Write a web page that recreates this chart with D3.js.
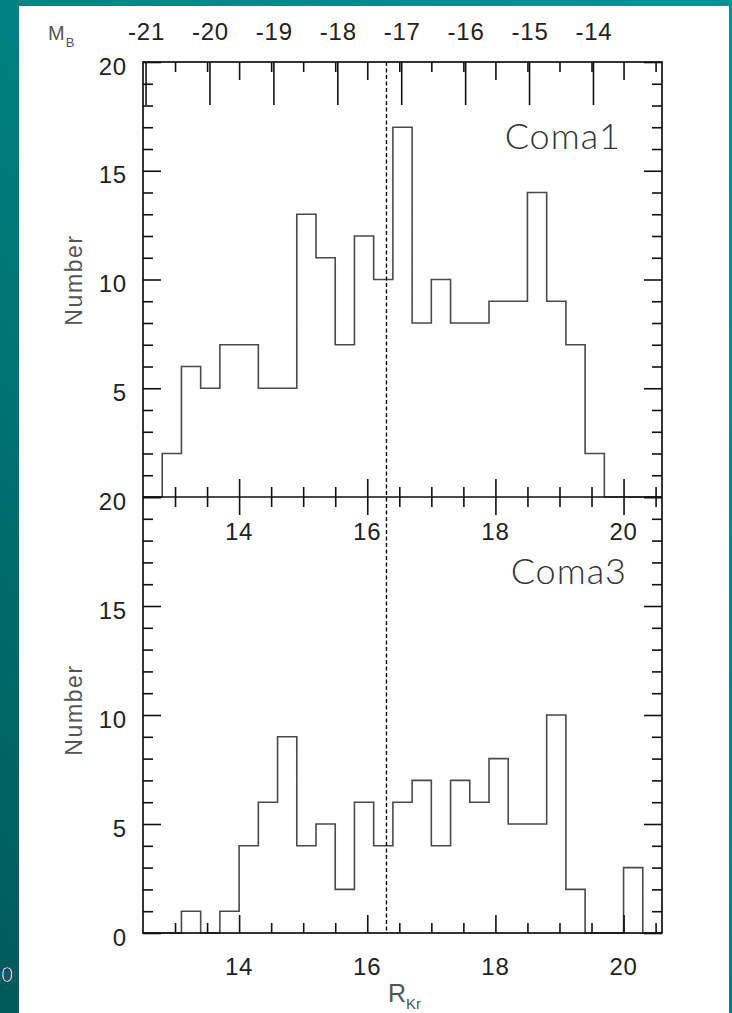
<!DOCTYPE html>
<html>
<head>
<meta charset="utf-8">
<script src="https://cdn.jsdelivr.net/npm/d3@7"></script>
<style>
  html, body { margin: 0; padding: 0; background: #007a7a; }
  svg { display: block; }
</style>
</head>
<body>
<svg id="chart" width="732" height="1013"></svg>
<script>
// Histogram bins: lower edge of each 0.3-mag bin in R_Kr
const binLower = [12.5, 12.8, 13.1, 13.4, 13.7, 14.0, 14.3, 14.6, 14.9, 15.2, 15.5, 15.8, 16.1,
                  16.4, 16.7, 17.0, 17.3, 17.6, 17.9, 18.2, 18.5, 18.8, 19.1, 19.4, 19.7, 20.0, 20.3];
const binWidth = 0.3;

// Galaxy counts per bin
const coma1Counts = [0, 2, 6, 5, 7, 7, 5, 5, 13, 11, 7, 12, 10,
                     17, 8, 10, 8, 8, 9, 9, 14, 9, 7, 2, 0, 0, 0];
const coma3Counts = [0, 0, 1, 0, 1, 4, 6, 9, 4, 5, 2, 6, 4,
                     6, 7, 4, 7, 6, 8, 5, 5, 10, 2, 0, 0, 3, 0];

// Axis ticks and labels
const rDomain = [12.5, 20.6];
const rMajorTicks = [14, 16, 18, 20];
const rMinorTicks = [13, 13.5, 14.5, 15, 15.5, 16.5, 17, 17.5, 18.5, 19, 19.5, 20.5];
const mbDomain = [-21.04, -12.92];
const mbTicks = [-21, -20, -19, -18, -17, -16, -15, -14];
const countDomain = [0, 20];
const countMajorTicks = [0, 5, 10, 15, 20];
const countMinorTicks = [1, 2, 3, 4, 6, 7, 8, 9, 11, 12, 13, 14, 16, 17, 18, 19];
const countLabelsTop = [5, 10, 15, 20];
const countLabelsBottom = [0, 5, 10, 15, 20];
const cutMagnitude = 16.3;
const panelNames = ["Coma1", "Coma3"];

const svg = d3.select("#chart");
const W = 732, H = 1013;

// Slide background
const defs = svg.append("defs");
const grad = defs.append("linearGradient").attr("id", "bg")
  .attr("x1", "1").attr("y1", "0").attr("x2", "0").attr("y2", "1");
grad.append("stop").attr("offset", "0").attr("stop-color", "#009696");
grad.append("stop").attr("offset", "0.45").attr("stop-color", "#008585");
grad.append("stop").attr("offset", "1").attr("stop-color", "#005a5a");
svg.append("rect").attr("width", W).attr("height", H).attr("fill", "url(#bg)");
svg.append("text").attr("x", 1).attr("y", 982)
  .attr("font-family", "Liberation Sans, Arial, sans-serif").attr("font-size", 22)
  .attr("fill", "#fff").attr("stroke", "#023").attr("stroke-width", 0.7).text("0");
svg.append("rect").attr("x", 19).attr("y", 6).attr("width", 710).attr("height", H - 6).attr("fill", "#fff");

// Plot frame geometry
const frameL = 143, frameR = 662, frameT = 62, frameM = 497, frameB = 933;

const x = d3.scaleLinear().domain(rDomain).range([frameL, frameR]);
const mb = d3.scaleLinear().domain(mbDomain).range([frameL, frameR]);
const yTop = d3.scaleLinear().domain(countDomain).range([frameM, frameT]);
const yBot = d3.scaleLinear().domain(countDomain).range([frameB, frameM]);

const ink = "#111";
const tickW = 1.6;

function styleAxis(g) {
  g.select(".domain").remove();
  g.selectAll(".tick line").attr("stroke", ink).attr("stroke-width", tickW);
  g.selectAll(".tick text").remove();
}

function addAxis(axis, tx, ty) {
  svg.append("g").attr("transform", `translate(${tx},${ty})`).call(axis).call(styleAxis);
}

// Histograms as step outlines
function histPoints(counts) {
  const pts = binLower.map((b, i) => [b, counts[i]]);
  pts.push([Math.min(binLower[binLower.length - 1] + binWidth, rDomain[1]), counts[counts.length - 1]]);
  return pts;
}
[[coma1Counts, yTop], [coma3Counts, yBot]].forEach(([counts, y]) => {
  const step = d3.line().x(d => x(d[0])).y(d => y(d[1])).curve(d3.curveStepAfter);
  svg.append("path")
    .attr("d", step(histPoints(counts)))
    .attr("fill", "none").attr("stroke", "#4a4a4a").attr("stroke-width", 1.6);
});

// Frame
svg.append("rect").attr("x", frameL).attr("y", frameT)
  .attr("width", frameR - frameL).attr("height", frameB - frameT)
  .attr("fill", "none").attr("stroke", ink).attr("stroke-width", 1.7);
svg.append("line").attr("x1", frameL).attr("x2", frameR).attr("y1", frameM).attr("y2", frameM)
  .attr("stroke", ink).attr("stroke-width", 1.7);

// R ticks on top edge, middle (both panels) and bottom edge
addAxis(d3.axisBottom(x).tickValues(rMinorTicks).tickSize(10), 0, frameT);
addAxis(d3.axisBottom(x).tickValues(rMajorTicks).tickSize(18), 0, frameT);
addAxis(d3.axisTop(x).tickValues(rMinorTicks).tickSize(10), 0, frameM);
addAxis(d3.axisTop(x).tickValues(rMajorTicks).tickSize(18), 0, frameM);
addAxis(d3.axisBottom(x).tickValues(rMinorTicks).tickSize(10), 0, frameM);
addAxis(d3.axisBottom(x).tickValues(rMajorTicks).tickSize(18), 0, frameM);
addAxis(d3.axisTop(x).tickValues(rMinorTicks).tickSize(10), 0, frameB);
addAxis(d3.axisTop(x).tickValues(rMajorTicks).tickSize(18), 0, frameB);

// Absolute magnitude ticks along the top
addAxis(d3.axisBottom(mb).tickValues(mbTicks).tickSize(43), 0, frameT);

// Count ticks, left and right, both panels
[yTop, yBot].forEach(y => {
  addAxis(d3.axisRight(y).tickValues(countMinorTicks).tickSize(10), frameL, 0);
  addAxis(d3.axisRight(y).tickValues(countMajorTicks).tickSize(18), frameL, 0);
  addAxis(d3.axisLeft(y).tickValues(countMinorTicks).tickSize(10), frameR, 0);
  addAxis(d3.axisLeft(y).tickValues(countMajorTicks).tickSize(18), frameR, 0);
});

// Magnitude limit
svg.append("line").attr("x1", x(cutMagnitude)).attr("x2", x(cutMagnitude))
  .attr("y1", frameT).attr("y2", frameB)
  .attr("stroke", "#000").attr("stroke-width", 1.4).attr("stroke-dasharray", "4,2.5");

// Tick labels
const numFont = "Liberation Sans, Arial, Helvetica, sans-serif";
function labels(values, xf, yf, anchor) {
  svg.append("g").selectAll("text").data(values).join("text")
    .attr("x", xf).attr("y", yf).attr("text-anchor", anchor)
    .attr("font-family", numFont).attr("font-size", 24).attr("letter-spacing", 0.8)
    .attr("fill", "#222").text(d => d);
}
labels(mbTicks, d => mb(d) + 1, 40, "middle");
labels(countLabelsTop, 127, d => yTop(d) + 12.5, "end");
labels(countLabelsBottom, 127, d => yBot(d) + 12.5, "end");
labels(rMajorTicks, d => x(d), 540, "middle");
labels(rMajorTicks, d => x(d), 975, "middle");

// Axis titles
const titleFill = "#555";
function numberTitle(cy) {
  svg.append("text").attr("transform", `translate(82,${cy}) rotate(-90)`)
    .attr("text-anchor", "middle").attr("font-family", numFont)
    .attr("font-size", 23).attr("letter-spacing", 1.6).attr("fill", titleFill).text("Number");
}
numberTitle(280);
numberTitle(710);

const mbLabel = svg.append("text").attr("x", 48).attr("y", 39.5)
  .attr("font-family", numFont).attr("fill", titleFill);
mbLabel.append("tspan").attr("font-size", 20).text("M");
mbLabel.append("tspan").attr("font-size", 13).attr("dy", 7.5).attr("dx", 1).text("B");

const rLabel = svg.append("text").attr("x", 388).attr("y", 1002)
  .attr("font-family", numFont).attr("fill", titleFill);
rLabel.append("tspan").attr("font-size", 25).text("R");
rLabel.append("tspan").attr("font-size", 15).attr("dy", 7).text("Kr");

// Panel names
svg.append("text").attr("x", 621).attr("y", 149).attr("text-anchor", "end")
  .attr("font-family", "Lato, Roboto, sans-serif").attr("font-weight", 300)
  .attr("font-size", 36).attr("letter-spacing", 1).attr("fill", "#333").text(panelNames[0]);
svg.append("text").attr("x", 627).attr("y", 584).attr("text-anchor", "end")
  .attr("font-family", "Lato, Roboto, sans-serif").attr("font-weight", 300)
  .attr("font-size", 36).attr("letter-spacing", 1).attr("fill", "#333").text(panelNames[1]);
</script>
</body>
</html>
